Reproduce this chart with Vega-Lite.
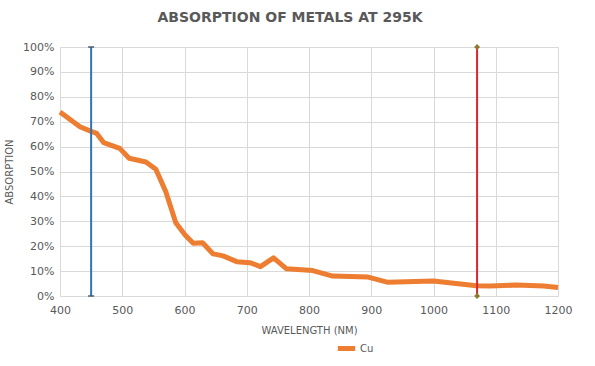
{
  "$schema": "https://vega.github.io/schema/vega-lite/v6.json",
  "autosize": {"type": "none"},
  "padding": {"left": 60, "top": 47, "right": 37, "bottom": 70},
  "width": 498,
  "height": 249,
  "background": "white",
  "title": {
    "text": "ABSORPTION  OF METALS AT 295K",
    "font": "DejaVu Sans",
    "fontSize": 14,
    "fontWeight": "bold",
    "color": "#595959",
    "anchor": "middle",
    "offset": 16,
    "dx": -19
  },
  "config": {
    "view": {"stroke": null},
    "axis": {
      "labelFont": "DejaVu Sans",
      "titleFont": "DejaVu Sans",
      "labelColor": "#595959",
      "titleColor": "#595959",
      "labelFontSize": 11,
      "titleFontSize": 10,
      "titleFontWeight": "normal",
      "gridColor": "#D9D9D9",
      "domain": false,
      "ticks": false,
      "labelFlush": false
    },
    "legend": {"labelFont": "DejaVu Sans", "labelFontSize": 10, "labelColor": "#595959"}
  },
  "datasets": {
    "cu": [
      {"wl": 400, "abs": 0.739, "series": "Cu"},
      {"wl": 432, "abs": 0.68, "series": "Cu"},
      {"wl": 451, "abs": 0.66, "series": "Cu"},
      {"wl": 459, "abs": 0.653, "series": "Cu"},
      {"wl": 470, "abs": 0.616, "series": "Cu"},
      {"wl": 496, "abs": 0.593, "series": "Cu"},
      {"wl": 511, "abs": 0.553, "series": "Cu"},
      {"wl": 538, "abs": 0.538, "series": "Cu"},
      {"wl": 554, "abs": 0.509, "series": "Cu"},
      {"wl": 570, "abs": 0.419, "series": "Cu"},
      {"wl": 586, "abs": 0.294, "series": "Cu"},
      {"wl": 601, "abs": 0.245, "series": "Cu"},
      {"wl": 614, "abs": 0.212, "series": "Cu"},
      {"wl": 629, "abs": 0.214, "series": "Cu"},
      {"wl": 646, "abs": 0.169, "series": "Cu"},
      {"wl": 662, "abs": 0.161, "series": "Cu"},
      {"wl": 684, "abs": 0.138, "series": "Cu"},
      {"wl": 705, "abs": 0.134, "series": "Cu"},
      {"wl": 722, "abs": 0.118, "series": "Cu"},
      {"wl": 743, "abs": 0.153, "series": "Cu"},
      {"wl": 764, "abs": 0.109, "series": "Cu"},
      {"wl": 806, "abs": 0.102, "series": "Cu"},
      {"wl": 838, "abs": 0.08, "series": "Cu"},
      {"wl": 895, "abs": 0.076, "series": "Cu"},
      {"wl": 927, "abs": 0.055, "series": "Cu"},
      {"wl": 1000, "abs": 0.06, "series": "Cu"},
      {"wl": 1069, "abs": 0.041, "series": "Cu"},
      {"wl": 1091, "abs": 0.04, "series": "Cu"},
      {"wl": 1134, "abs": 0.044, "series": "Cu"},
      {"wl": 1177, "abs": 0.04, "series": "Cu"},
      {"wl": 1200, "abs": 0.034, "series": "Cu"}
    ],
    "blue": [
      {"wl": 450, "abs": 0},
      {"wl": 450, "abs": 1}
    ],
    "red": [
      {"wl": 1070, "abs": 0},
      {"wl": 1070, "abs": 1}
    ]
  },
  "encoding": {
    "x": {
      "field": "wl", "type": "quantitative",
      "scale": {"domain": [400, 1200], "nice": false, "zero": false},
      "axis": {"values": [400,500,600,700,800,900,1000,1100,1200], "format": "d", "title": "WAVELENGTH (NM)", "labelPadding": 8, "titlePadding": 10, "grid": true}
    },
    "y": {
      "field": "abs", "type": "quantitative",
      "scale": {"domain": [0, 1], "nice": false},
      "axis": {"values": [0,0.1,0.2,0.3,0.4,0.5,0.6,0.7,0.8,0.9,1], "format": ".0%", "title": "ABSORPTION", "labelPadding": 6, "titlePadding": 8, "grid": true}
    }
  },
  "layer": [
    {
      "data": {"name": "cu"},
      "mark": {"type": "line", "strokeWidth": 5, "strokeJoin": "round"},
      "encoding": {
        "color": {
          "field": "series", "type": "nominal",
          "scale": {"range": ["#ED7D31"]},
          "legend": {"title": null, "orient": "none", "legendX": 275, "legendY": 290, "symbolType": "stroke", "symbolStrokeWidth": 5, "symbolSize": 300, "labelOffset": 2}
        }
      }
    },
    {
      "data": {"name": "blue"},
      "mark": {"type": "line", "color": "#2E75B6", "strokeWidth": 2},
      "encoding": {}
    },
    {
      "data": {"name": "blue"},
      "mark": {"type": "tick", "orient": "horizontal", "color": "#44546A", "size": 6, "thickness": 2},
      "encoding": {}
    },
    {
      "data": {"name": "red"},
      "mark": {"type": "line", "color": "#D9262B", "strokeWidth": 2},
      "encoding": {}
    },
    {
      "data": {"name": "red"},
      "mark": {"type": "point", "shape": "diamond", "filled": true, "color": "#8C7A2E", "size": 35, "opacity": 1},
      "encoding": {}
    }
  ]
}
